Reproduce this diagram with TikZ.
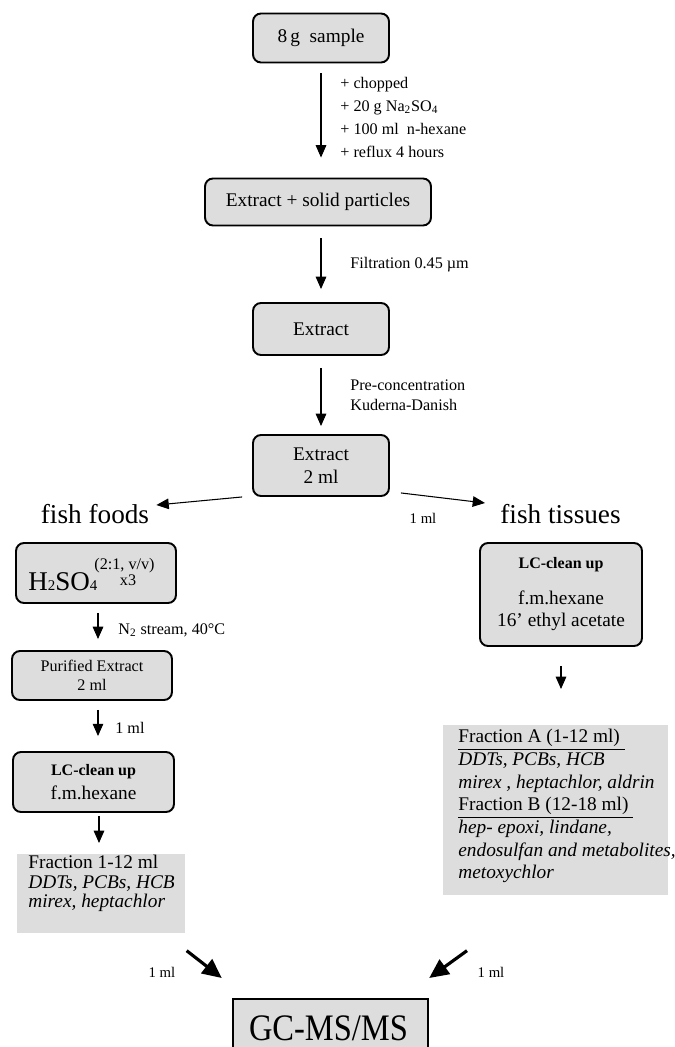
\documentclass[tikz,border=0pt]{standalone}
\usepackage{fontspec}
\setmainfont{Liberation Serif}
\usepackage{xcolor}
\usepackage{tikz}
\usetikzlibrary{arrows.meta,calc}

\definecolor{boxgray}{RGB}{221,221,221}
\newcommand\mainsize{\fontsize{11}{13}\selectfont}
\newcommand\notesize{\fontsize{9.2}{11}\selectfont}
\newcommand\mlsize{\fontsize{8.4}{10}\selectfont}
\newcommand\bigsize{\fontsize{15.5}{18}\selectfont}
\newcommand\acidsize{\fontsize{15.4}{18}\selectfont}
\newcommand\gcsize{\fontsize{18.5}{22}\selectfont}

\begin{document}
\begin{tikzpicture}[
  x=0.02cm, y=-0.02cm,
  box/.style={rectangle, rounded corners=0.16cm, draw=black, line width=1.1pt,
              fill=boxgray, inner sep=0pt, align=center, font=\mainsize},
  fracbox/.style={rectangle, fill=boxgray, inner sep=0pt, anchor=north west},
  fractext/.style={anchor=north west, align=left, inner sep=0pt},
  arr/.style={-{Triangle[length=7pt, width=6pt]}, line width=0.6pt},
  bigarr/.style={-{Triangle[length=11pt, width=10pt]}, line width=1.8pt},
  note/.style={anchor=west, align=left, inner sep=0pt, font=\notesize},
  mlnote/.style={inner sep=0pt, font=\mlsize},
  head/.style={inner sep=0pt, font=\bigsize}
]
\useasboundingbox (0,0) rectangle (675,1047);

% extraction line
\node[box, minimum width=2.72cm, minimum height=0.98cm] (sample) at (321,38) {8\,g\ \ sample};
\node[box, minimum width=4.52cm, minimum height=0.94cm] (particles) at (318,202) {Extract + solid particles};
\node[box, minimum width=2.72cm, minimum height=1.04cm] (extract) at (321,329) {Extract};
\node[box, minimum width=2.72cm, minimum height=1.22cm] (conc) at (321,465.5) {Extract\\2 ml};

\draw[arr, shorten <=0.2cm, shorten >=0.4cm] (sample.south) -- (sample.south |- particles.north);
\draw[arr, shorten <=0.24cm, shorten >=0.26cm] (extract.north |- particles.south) -- (extract.north);
\draw[arr, shorten <=0.24cm, shorten >=0.16cm] (extract.south) -- (conc.north);

\node[note, font={\fontsize{9.2}{13.1}\selectfont}] (adds) at (340,117)
  {+ chopped\\+ 20 g Na\textsubscript{2}SO\textsubscript{4}\\+ 100 ml\ \ n-hexane\\+ reflux 4 hours};
\node[note] (filt) at (350,265) {Filtration 0.45 µm};
\node[note, font={\fontsize{9.2}{11.4}\selectfont}] (kd) at (350,395) {Pre-concentration\\Kuderna-Danish};

% split
\node[head] (foods) at (95,514) {fish foods};
\node[head] (tissues) at (560.5,514) {fish tissues};
\draw[arr] ($(conc.south west)+(-10,0)$) -- ($(foods.east)+(7,-9)$);
\draw[arr] ($(conc.south east)+(11,-4)$) -- ($(tissues.west)+(-15,-11)$);
\node[mlnote] (splitml) at (423,518) {1 ml};

% fish foods
\node[box, minimum width=3.2cm, minimum height=1.2cm] (acid) at (96,573) {};
\node[anchor=base west, inner sep=0pt, font=\acidsize] (acidtxt) at (28,590)
  {H{\fontsize{8.5}{10}\selectfont 2}SO{\fontsize{8.5}{10}\selectfont 4}};
\node[inner sep=0pt, font=\notesize] (acidratio) at (124.5,566) {(2:1, v/v)};
\node[inner sep=0pt, font=\notesize] (acidrep) at (128,580) {x3};

\node[box, minimum width=3.2cm, minimum height=0.98cm, font={\fontsize{9.2}{10.5}\selectfont}] (purified) at (92,675.5) {Purified Extract\\2 ml};
\node[box, minimum width=3.22cm, minimum height=1.2cm] (lcleft) at (93.5,782)
  {{\fontsize{9.1}{11}\selectfont\bfseries LC-clean up}\\[1pt] f.m.hexane};
\node[fracbox, minimum width=3.36cm, minimum height=1.58cm] (fracL) at (17,854) {};
\node[fractext, font={\fontsize{11}{11.1}\selectfont}] (fracLtxt) at (28,855)
  {Fraction 1-12 ml\\\textit{DDTs, PCBs, HCB}\\\textit{mirex, heptachlor}};

\draw[arr, shorten <=0.18cm, shorten >=0.22cm] ([xshift=0.04cm]acid.south) -- ([xshift=0.04cm]acid.south |- purified.north);
\node[note] (n2) at (118,630) {N\textsubscript{2} stream, 40°C};
\draw[arr, shorten <=0.18cm, shorten >=0.3cm] ([xshift=0.12cm]purified.south) -- ([xshift=0.12cm]purified.south |- lcleft.north);
\node[note] (leftml) at (115,728) {1 ml};
\draw[arr, shorten <=0.06cm, shorten >=0.22cm] ([xshift=0.11cm]lcleft.south) -- ([xshift=0.11cm]lcleft.south |- fracL.north);

% fish tissues
\node[box, minimum width=3.24cm, minimum height=2.06cm] (lcright) at (561,594.5)
  {{\fontsize{9.1}{11}\selectfont\bfseries LC-clean up}\\[7pt] f.m.hexane\\16’ ethyl acetate};
\node[fracbox, minimum width=4.5cm, minimum height=3.4cm] (fracR) at (443,725) {};
\node[fractext, font={\fontsize{11}{12.9}\selectfont}] (fracRtxt) at (458,729)
  {\underline{Fraction A (1-12 ml)~}\\\textit{DDTs, PCBs, HCB}\\\textit{mirex , heptachlor, aldrin}\\
   \underline{Fraction B (12-18 ml)~}\\\textit{hep- epoxi, lindane,}\\\textit{endosulfan and metabolites,}\\\textit{metoxychlor}};
\draw[arr, shorten <=0.38cm, shorten >=0.72cm] (lcright.south) -- (lcright.south |- fracR.north);

% detection
\node[rectangle, draw=black, line width=1.4pt, fill=boxgray, inner sep=0pt, anchor=north,
      minimum width=3.9cm, minimum height=1.8cm] (gc) at (330.5,998) {};
\node[anchor=base, inner sep=0pt, font=\gcsize] (gctxt) at (328.5,1040) {\scalebox{1}[1.15]{GC-MS/MS}};
\draw[bigarr] ($(fracL.south east)+(1,17)$) -- ($(gc.north west)+(-10,-20)$);
\draw[bigarr] ($(fracR.south west)+(24,55)$) -- ($(gc.north east)+(0,-20)$);
\node[mlnote] (gcleftml) at (162,972) {1 ml};
\node[mlnote] (gcrightml) at (491,972) {1 ml};
\end{tikzpicture}
\end{document}
